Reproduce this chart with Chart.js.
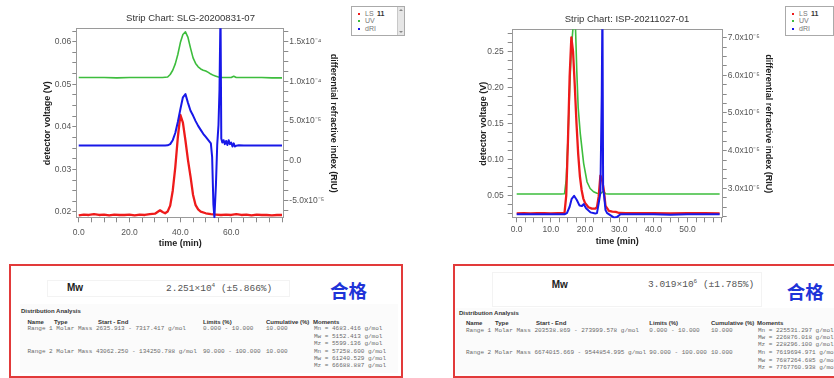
<!DOCTYPE html>
<html>
<head>
<meta charset="utf-8">
<title>Strip Charts</title>
<script src="https://cdn.jsdelivr.net/npm/chart.js@4.4.1/dist/chart.umd.min.js"></script>
<style>
html,body{margin:0;padding:0}
body{width:834px;height:378px;overflow:hidden;background:#fff;position:relative;font-family:"Liberation Sans",Arial,sans-serif}
canvas{position:absolute;top:0}
.t{position:absolute;white-space:nowrap;height:10px;line-height:10px}
.mono{font-family:"Liberation Mono","DejaVu Sans Mono",monospace;font-size:6px;color:#6a6a6a}
.hd{font-size:6px;font-weight:bold;color:#333}
.mw{font-size:10px;font-weight:bold;color:#222}
.val{font-family:"Liberation Mono","DejaVu Sans Mono",monospace;font-size:9.5px;color:#555}
.sp{font-size:6px;position:relative;top:-4px}
.ok{position:absolute;white-space:nowrap;font-family:"Noto Sans CJK SC",sans-serif;font-weight:bold;font-size:18.5px;color:#1f34d8;height:24px;line-height:24px}
.box{position:absolute;border:2px solid #e23a3a;box-sizing:border-box}
.band{position:absolute;border:1px solid #f3f3f3;box-sizing:border-box}
.panel{position:absolute;background:#fbfbfb}
.leg{position:absolute;border:1px solid #aaa;background:#fff;box-sizing:border-box;overflow:hidden}
.li{position:absolute;font-size:7px;color:#777;height:8px;line-height:8px;white-space:nowrap}
.li b{color:#333}
.dot{position:absolute;width:2px;height:2px}
.sb{position:absolute;right:0;top:0;width:7px;height:100%;background:#e6e6e6;border-left:1px solid #c8c8c8;box-sizing:border-box}
.up{position:absolute;left:1px;top:2px;width:0;height:0;border-left:2px solid transparent;border-right:2px solid transparent;border-bottom:2px solid #888}
.dn{position:absolute;left:1px;bottom:2px;width:0;height:0;border-left:2px solid transparent;border-right:2px solid transparent;border-top:2px solid #888}
</style>
</head>
<body>
<canvas id="chartA" width="420" height="255" style="left:0"></canvas>
<canvas id="chartB" width="414" height="255" style="left:420px"></canvas>

<!-- legends -->
<div class="leg" style="left:351px;top:6px;width:54px;height:30px">
  <div class="dot" style="left:6px;top:6px;background:#ee1b1b"></div><div class="li" style="left:13px;top:3px">LS</div><div class="li" style="left:25px;top:3px"><b>11</b></div>
  <div class="dot" style="left:6px;top:13px;background:#3dbd3d"></div><div class="li" style="left:13px;top:10px">UV</div>
  <div class="dot" style="left:6px;top:21px;background:#1818e8"></div><div class="li" style="left:13px;top:18px">dRI</div>
  <div class="sb"><div class="up"></div><div class="dn"></div></div>
</div>
<div class="leg" style="left:785px;top:6px;width:49px;height:30px">
  <div class="dot" style="left:6px;top:6px;background:#ee1b1b"></div><div class="li" style="left:13px;top:3px">LS</div><div class="li" style="left:25px;top:3px"><b>11</b></div>
  <div class="dot" style="left:6px;top:13px;background:#3dbd3d"></div><div class="li" style="left:13px;top:10px">UV</div>
  <div class="dot" style="left:6px;top:21px;background:#1818e8"></div><div class="li" style="left:13px;top:18px">dRI</div>
</div>

<!-- left result table -->
<div class="box" style="left:9px;top:264px;width:394px;height:114px"></div>
<div class="band" style="left:47px;top:280px;width:243px;height:17px"></div>
<div class="panel" style="left:20px;top:304px;width:378px;height:69px"></div>
<div class="t mw" style="left:67px;top:283px">Mw</div>
<div class="t val" style="left:166px;top:283.5px">2.251×10<span class="sp">4</span> (±5.866%)</div>
<div class="ok" style="left:330px;top:278px">合格</div>
<div class="t hd" style="left:21px;top:305.7px">Distribution Analysis</div>
<div class="t hd" style="left:27.5px;top:317px">Name</div>
<div class="t hd" style="left:54px;top:317px">Type</div>
<div class="t hd" style="left:98px;top:317px">Start - End</div>
<div class="t hd" style="left:203px;top:317px">Limits (%)</div>
<div class="t hd" style="left:266px;top:317px">Cumulative (%)</div>
<div class="t hd" style="left:313px;top:317px">Moments</div>
<div class="t mono" style="left:27.5px;top:324.3px">Range 1 Molar Mass 2635.913 - 7317.417 g/mol</div>
<div class="t mono" style="left:203px;top:324.3px">0.000 - 10.000</div>
<div class="t mono" style="left:266px;top:324.3px">10.000</div>
<div class="t mono" style="left:314px;top:324.3px">Mn = 4683.416 g/mol</div>
<div class="t mono" style="left:314px;top:331.5px">Mw = 5152.413 g/mol</div>
<div class="t mono" style="left:314px;top:338.7px">Mz = 5599.136 g/mol</div>
<div class="t mono" style="left:27.5px;top:347px">Range 2 Molar Mass 43062.250 - 134250.788 g/mol</div>
<div class="t mono" style="left:203px;top:347px">90.000 - 100.000</div>
<div class="t mono" style="left:266px;top:347px">10.000</div>
<div class="t mono" style="left:314px;top:347px">Mn = 57258.600 g/mol</div>
<div class="t mono" style="left:314px;top:354.2px">Mw = 61240.529 g/mol</div>
<div class="t mono" style="left:314px;top:361.4px">Mz = 66688.887 g/mol</div>

<!-- right result table -->
<div class="box" style="left:453px;top:264px;width:400px;height:114px"></div>
<div class="band" style="left:492px;top:272px;width:270px;height:35px"></div>
<div class="panel" style="left:456px;top:308px;width:378px;height:66px"></div>
<div class="t mw" style="left:551.7px;top:280px">Mw</div>
<div class="t val" style="left:648px;top:279.5px">3.019×10<span class="sp">6</span> (±1.785%)</div>
<div class="ok" style="left:786.7px;top:279px">合格</div>
<div class="t hd" style="left:459px;top:308.3px">Distribution Analysis</div>
<div class="t hd" style="left:466px;top:318.3px">Name</div>
<div class="t hd" style="left:495px;top:318.3px">Type</div>
<div class="t hd" style="left:536px;top:318.3px">Start - End</div>
<div class="t hd" style="left:649.3px;top:318.3px">Limits (%)</div>
<div class="t hd" style="left:711px;top:318.3px">Cumulative (%)</div>
<div class="t hd" style="left:757px;top:318.3px">Moments</div>
<div class="t mono" style="left:466px;top:325.7px">Range 1 Molar Mass 203538.869 - 273999.578 g/mol</div>
<div class="t mono" style="left:649.3px;top:325.7px">0.000 - 10.000</div>
<div class="t mono" style="left:711px;top:325.7px">10.000</div>
<div class="t mono" style="left:758px;top:325.7px">Mn = 225531.297 g/mol</div>
<div class="t mono" style="left:758px;top:333px">Mw = 226876.018 g/mol</div>
<div class="t mono" style="left:758px;top:340.3px">Mz = 228296.100 g/mol</div>
<div class="t mono" style="left:466px;top:348.3px">Range 2 Molar Mass 6674015.669 - 9544854.995 g/mol</div>
<div class="t mono" style="left:649.3px;top:348.3px">90.000 - 100.000</div>
<div class="t mono" style="left:711px;top:348.3px">10.000</div>
<div class="t mono" style="left:758px;top:348.3px">Mn = 7619694.971 g/mol</div>
<div class="t mono" style="left:758px;top:355.6px">Mw = 7687264.685 g/mol</div>
<div class="t mono" style="left:758px;top:363px">Mz = 7767760.938 g/mol</div>

<script>
// ===== Chart A: SLG-20200831-07 =====
const slgTitle = 'Strip Chart: SLG-20200831-07';
const slgXLabels = [0, 20, 40, 60];
const slgLsTime = [0,2,4,6,8,10,12,14,16,18,20,22,24,26,28,30,
  31,32,33,34,35,36,37,38,39,40,41,42,43,44,45,46,47,48,
  50,52,54,56,58,60,62,64,66,68,70,72,74,76,78,80];
const slgLs = [0.0192,0.0194,0.0193,0.0195,0.0193,0.0194,0.0192,0.0194,0.0193,0.0193,0.0194,0.0192,0.0194,0.0193,0.0195,0.0196,
  0.0200,0.0204,0.0200,0.0197,0.0201,0.0215,0.0250,0.0305,0.0375,0.0428,0.0410,0.0368,0.0322,0.0283,0.0240,0.0216,0.0206,0.0201,
  0.0197,0.0195,0.0194,0.0193,0.0194,0.0193,0.0195,0.0193,0.0194,0.0192,0.0194,0.0193,0.0193,0.0192,0.0193,0.0193];
const slgUvTime = [0,5,10,15,20,25,30,33,
  35,36,37,38,39,40,41,42,43,44,45,46,47,48,49,50,51,52,53,54,55,56,
  58,60,61,62,64,68,72,76,80];
const slgUv = [0.0516,0.0516,0.0516,0.0515,0.0516,0.0516,0.0516,0.0516,
  0.0517,0.0523,0.0533,0.0548,0.0570,0.0598,0.0617,0.0623,0.0610,0.0585,0.0562,0.0549,0.0541,0.0536,0.0533,0.0531,0.0528,0.0524,0.0521,0.0519,0.0517,0.0516,
  0.0516,0.0516,0.0519,0.0516,0.0516,0.0516,0.0516,0.0515,0.0515];
const slgDriTime = [0,5,10,15,20,25,30,34,
  35,36,37,38,39,40,41,42,43,44,45,46,47,48,49,50,51,52,
  52.5,53,53.4,54,54.5,55,55.4,55.8,56.1,56.5,
  57,57.5,58,58.5,59,59.5,60,60.5,61,61.5,62,
  63,65,70,75,80];
const slgDri = [1.93e-5,1.93e-5,1.94e-5,1.93e-5,1.93e-5,1.92e-5,1.93e-5,1.93e-5,
  1.95e-5,2.1e-5,2.6e-5,3.5e-5,4.9e-5,6.5e-5,8.0e-5,8.4e-5,7.3e-5,6.3e-5,5.7e-5,5.0e-5,4.4e-5,3.9e-5,3.4e-5,3.0e-5,2.6e-5,2.2e-5,
  0.5e-5,-5.5e-5,-7.1e-5,-3.0e-5,2.0e-5,4.5e-5,9.0e-5,19.0e-5,2.8e-5,2.3e-5,
  2.6e-5,2.1e-5,2.5e-5,2.0e-5,2.6e-5,2.1e-5,2.3e-5,1.8e-5,2.2e-5,1.8e-5,1.9e-5,
  1.95e-5,1.93e-5,1.93e-5,1.92e-5,1.93e-5];

// ===== Chart B: ISP-20211027-01 =====
const ispTitle = 'Strip Chart: ISP-20211027-01';
const ispXLabels = [0, 10, 20, 30, 40, 50];
const ispLsTime = [0,2,4,6,8,10,12,13,
  14,14.5,15,15.5,16,16.5,17,17.5,18,18.5,19,19.5,20,
  21,22,23,23.5,24,24.5,25,25.5,26,27,28,29,30,
  32,35,40,45,50,55,59.4];
const ispLs = [0.0255,0.0258,0.0254,0.0257,0.0256,0.0255,0.0257,0.0256,
  0.026,0.05,0.125,0.215,0.270,0.250,0.203,0.151,0.108,0.077,0.058,0.046,0.040,
  0.034,0.032,0.032,0.034,0.049,0.078,0.072,0.058,0.036,0.029,0.028,0.0275,0.026,
  0.0258,0.0256,0.0257,0.0255,0.0256,0.0256,0.0255];
const ispUvTime = [0,5,10,13,14,14.5,15,15.5,16,16.5,16.8,17.2,17.6,18,18.6,19.6,20.6,21.5,22.5,23.5,24.5,25.3,26,27,30,35,40,45,50,55,59.4];
const ispUv = [0.0524,0.0524,0.0523,0.0524,0.0527,0.072,0.128,0.198,0.255,0.284,0.292,0.286,0.222,0.172,0.137,0.095,0.069,0.060,0.0555,0.0533,0.0527,0.056,0.0528,0.0524,0.0524,0.0524,0.0524,0.0524,0.0524,0.0524,0.0524];
const ispDriTime = [0,5,10,14,
  14.7,15.5,16.1,16.8,17.6,18.4,19.1,19.6,20.3,21.6,
  23,23.5,24,24.5,24.9,25.1,25.3,25.6,26,26.5,
  27.5,28.5,29.4,30.4,
  35,40,45,50,55,59.4];
const ispDri = [2.31e-5,2.31e-5,2.31e-5,2.31e-5,
  2.34e-5,2.51e-5,2.72e-5,2.80e-5,2.69e-5,2.54e-5,2.53e-5,2.58e-5,2.47e-5,2.36e-5,
  2.33e-5,2.34e-5,2.6e-5,2.88e-5,5.5e-5,8.0e-5,2.97e-5,2.8e-5,2.42e-5,2.34e-5,
  2.28e-5,2.22e-5,2.24e-5,2.31e-5,
  2.31e-5,2.31e-5,2.30e-5,2.31e-5,2.31e-5,2.31e-5];

// ===== shared labels / styling =====
const seriesLabels = ['dRI','LS 11','UV'];
const seriesColors = ['#1818e8','#ee1b1b','#3dbd3d'];
const xTitle = 'time (min)';
const yTitle = 'detector voltage (V)';
const y1Title = 'differential refractive index (RIU)';

const FAM = "'Liberation Sans', Arial, sans-serif";
const pts = (xs, ys) => xs.map((x, i) => ({x: x, y: ys[i]}));
const SUP = {'-':'\u207B','0':'\u2070','1':'\u00B9','2':'\u00B2','3':'\u00B3','4':'\u2074','5':'\u2075','6':'\u2076','7':'\u2077','8':'\u2078','9':'\u2079'};
const sup = n => String(n).split('').map(c => SUP[c]).join('');
function sci(v) {
  if (Math.abs(v) < 1e-12) return '0.0';
  const e = Math.floor(Math.log10(Math.abs(v)) + 1e-9);
  return (v / Math.pow(10, e)).toFixed(1) + 'x10' + sup(e);
}
const isMajor = (v, m) => Math.abs(v / m - Math.round(v / m)) < 1e-6;

const frame = {
  id: 'frame',
  beforeDatasetsDraw(c) {
    const a = c.chartArea, ctx = c.ctx;
    ctx.save();
    ctx.strokeStyle = '#9a9a9a';
    ctx.lineWidth = 1;
    ctx.strokeRect(Math.round(a.left) + 0.5, Math.round(a.top) + 0.5, Math.round(a.right - a.left) - 1, Math.round(a.bottom - a.top) - 1);
    ctx.restore();
  }
};

function axis(o) {
  const show = o.labels ? (v => o.labels.some(l => Math.abs(l - v) < 1e-9)) : (v => isMajor(v, o.major));
  return {
    type: 'linear',
    position: o.position,
    min: o.min, max: o.max,
    border: {display: false},
    grid: {drawOnChartArea: false, drawTicks: true, tickLength: 4, color: '#8a8a8a'},
    ticks: {
      stepSize: o.step, autoSkip: false, includeBounds: false, maxRotation: 0,
      padding: o.pad, color: '#555', font: {family: FAM, size: 8.5},
      callback: v => show(v) ? o.fmt(v) : ''
    },
    title: {display: true, text: o.title, color: '#222', font: {family: FAM, size: 9, weight: 'bold'}, padding: o.tpad},
    afterFit: s => { if (o.w !== undefined) s.width = o.w; if (o.h !== undefined) s.height = o.h; }
  };
}

function build(id, s) {
  const sets = [
    {label: seriesLabels[0], data: pts(s.driT, s.dri), yAxisID: 'y1', borderColor: seriesColors[0], borderWidth: 2},
    {label: seriesLabels[1], data: pts(s.lsT, s.ls), yAxisID: 'y', borderColor: seriesColors[1], borderWidth: 2.3},
    {label: seriesLabels[2], data: pts(s.uvT, s.uv), yAxisID: 'y', borderColor: seriesColors[2], borderWidth: 1.6}
  ].map(d => Object.assign(d, {pointRadius: 0, tension: 0, fill: false, borderJoinStyle: 'round'}));
  return new Chart(document.getElementById(id), {
    type: 'line',
    data: {datasets: sets},
    options: {
      responsive: false, animation: false, devicePixelRatio: 1,
      layout: {padding: {left: 0, top: 0, right: s.padR, bottom: s.padB}},
      plugins: {
        legend: {display: false}, tooltip: {enabled: false},
        title: {display: true, text: s.title, color: '#333', font: {family: FAM, size: 9.5, weight: 'normal'}, padding: {top: s.tTop, bottom: s.tBot}}
      },
      scales: {
        x: axis(Object.assign({position: 'bottom', title: xTitle, fmt: v => v.toFixed(1)}, s.x)),
        y: axis(Object.assign({position: 'left', title: yTitle, fmt: v => v.toFixed(2)}, s.y)),
        y1: axis(Object.assign({position: 'right', title: y1Title, fmt: sci}, s.y1))
      }
    },
    plugins: [frame]
  });
}

build('chartA', {
  title: slgTitle, tTop: 12.6, tBot: 4.3, padR: 39, padB: 5.6,
  lsT: slgLsTime, ls: slgLs, uvT: slgUvTime, uv: slgUv, driT: slgDriTime, dri: slgDri,
  x: {min: -0.95, max: 80.9, step: 5, labels: slgXLabels, pad: 5.3, h: 31.1, tpad: {top: 0, bottom: 0}},
  y: {min: 0.01852, max: 0.06315, step: 0.0025, major: 0.01, pad: 1, w: 76.3, tpad: {top: 42.6, bottom: 0}},
  y1: {min: -7.24e-5, max: 1.669e-4, step: 1.25e-5, major: 5e-5, pad: 1, w: 96.7, tpad: {top: 42.6, bottom: 0}}
});
build('chartB', {
  title: ispTitle, tTop: 13.3, tBot: 4.6, padR: 0, padB: 7.9,
  lsT: ispLsTime, ls: ispLs, uvT: ispUvTime, uv: ispUv, driT: ispDriTime, dri: ispDri,
  x: {min: -1.46, max: 60.3, step: 2.5, labels: ispXLabels, pad: 2.6, h: 28.8, tpad: {top: 0, bottom: 0}},
  y: {min: 0.01861, max: 0.2811, step: 0.0125, major: 0.05, pad: 4, w: 91.7, tpad: {top: 57.9, bottom: 0}},
  y1: {min: 2.203e-5, max: 7.223e-5, step: 2.5e-6, major: 1e-5, pad: 1, w: 111.3, tpad: {top: 60.3, bottom: 0}}
});
</script>
</body>
</html>
